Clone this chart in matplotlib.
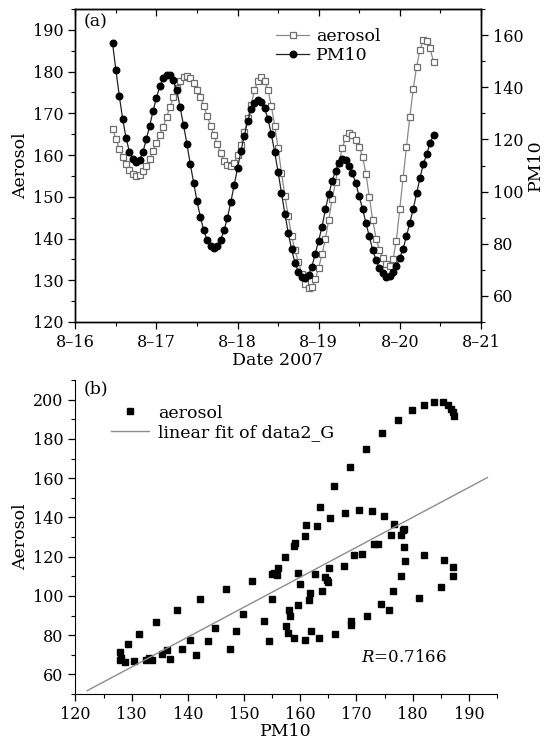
import numpy as np
import matplotlib
matplotlib.use("Agg")
import matplotlib.pyplot as plt
from matplotlib.ticker import MultipleLocator

plt.rcParams['font.family'] = ['DejaVu Serif']
plt.rcParams['mathtext.fontset'] = 'dejavuserif'
plt.rcParams['font.size'] = 11.5

# ---------------- data: panel (a) hourly series, starting 2007-08-16 11:00 ----------------
start_hour = 11  # hours after 2007-08-16 00:00
pm10 = [156.8, 146.5, 136.6, 127.8, 120.5, 115.2, 112.4, 111.5, 112.0, 115.2,
        120.1, 125.3, 131.0, 136.0, 140.5, 143.6, 144.8, 144.6, 142.6, 138.8,
        132.3, 125.5, 118.4, 110.6, 103.4, 96.3, 90.2, 85.1, 81.3, 79.0,
        78.5, 79.2, 81.5, 85.1, 90.0, 96.0, 102.5, 109.0, 115.5, 121.5,
        127.0, 131.5, 134.0, 135.0, 134.5, 132.0, 127.8, 122.0, 115.0, 107.5,
        99.5, 91.5, 84.2, 77.8, 72.6, 69.3, 67.2, 66.7, 68.0, 71.2,
        76.2, 81.2, 86.5, 93.2, 98.9, 104.0, 108.0, 111.0, 112.4, 112.0,
        110.0, 107.0, 103.2, 98.2, 93.4, 88.0, 82.8, 77.6, 73.8, 70.6,
        68.6, 67.2, 67.5, 69.3, 71.5, 74.5, 78.0, 83.0, 88.0, 93.4,
        99.3, 105.3, 110.5, 114.3, 118.8, 121.7]
aerosol = [166.3, 163.9, 161.5, 159.6, 157.8, 156.4, 155.4, 155.0, 155.3, 156.2,
           157.4, 159.1, 160.9, 162.9, 164.9, 166.8, 169.2, 171.4, 173.8, 176.0,
           177.8, 178.8, 179.0, 178.4, 177.2, 175.6, 173.8, 171.8, 169.4, 167.0,
           164.8, 162.6, 160.4, 158.6, 157.5, 157.3, 158.2, 160.0, 162.5, 165.5,
           168.8, 172.0, 175.5, 177.8, 178.6, 177.8, 175.6, 171.8, 167.0, 161.6,
           155.8, 150.3, 145.3, 140.6, 137.2, 134.4, 131.6, 129.2, 128.1, 128.3,
           130.2, 133.0, 136.2, 140.0, 144.5, 149.5, 153.5, 158.0, 161.8, 164.0,
           165.2, 164.8, 163.6, 162.0, 159.6, 155.5, 150.0, 144.5, 140.0, 137.3,
           135.3, 133.8, 133.3, 135.0, 139.5, 147.0, 154.5, 162.0, 169.2, 175.8,
           181.2, 185.2, 187.6, 187.4, 185.6, 182.3]
date_ticks = [16, 17, 18, 19, 20, 21]
date_labels = ['8\u201316', '8\u201317', '8\u201318', '8\u201319', '8\u201320', '8\u201321']

# ---------------- data: panel (b) scatter ----------------
sc_pm10 = [157.2, 158.9, 159.1, 160.9, 161.0, 163.0, 163.5, 165.3, 166.0, 168.0,
           168.9, 170.4, 171.7, 172.7, 173.2, 173.8, 174.6, 174.9, 176.1, 176.7,
           177.9, 178.3, 178.4, 178.5, 177.3, 179.8, 182.1, 183.8, 185.4, 186.3,
           186.9, 187.2, 187.4, 169.5, 171.0, 178.6, 182.1, 185.5,
           128.0, 128.1, 128.0, 128.8, 129.4, 130.4, 131.4, 132.5, 133.1, 133.7,
           134.3, 135.4, 136.3, 136.8, 138.0, 139.0, 140.3, 141.5, 142.2, 143.6,
           144.9, 146.8, 147.5, 148.6, 149.9, 151.4, 153.6, 154.5, 155.0, 155.0,
           155.4, 155.9, 156.0, 157.4, 157.8, 158.0, 158.1, 158.8, 159.6, 159.9,
           159.6, 160.9, 161.6, 161.8, 161.9, 162.7, 163.3, 163.9, 164.4, 164.7,
           165.0, 165.1, 166.2, 167.8, 169.0, 169.0, 171.9, 174.4, 175.7, 176.5,
           177.9, 181.1, 185.0, 187.1, 187.2]
sc_aerosol = [119.7, 125.6, 126.8, 130.4, 135.9, 135.6, 145.3, 139.7, 155.9, 142.4,
              165.8, 143.6, 174.9, 143.2, 126.2, 126.2, 183.2, 140.7, 130.8, 136.4,
              130.8, 133.7, 134.2, 124.8, 189.7, 194.5, 197.3, 198.8, 198.6, 197.4,
              195.2, 193.5, 191.8, 120.9, 121.4, 117.6, 120.9, 118.3,
              71.4, 68.5, 67.5, 66.2, 75.3, 66.6, 80.8, 67.1, 68.5, 67.1,
              86.7, 70.2, 72.2, 67.6, 92.7, 73.1, 77.3, 70.0, 98.3, 77.0,
              83.7, 103.4, 73.1, 81.9, 91.0, 107.5, 87.1, 77.0, 98.3, 111.1,
              111.5, 110.6, 114.4, 84.5, 81.3, 92.7, 89.8, 78.7, 111.5, 106.3,
              95.3, 77.7, 97.8, 101.6, 82.0, 111.1, 78.7, 102.6, 109.8, 108.1,
              106.9, 114.0, 80.8, 115.2, 85.0, 87.1, 89.6, 95.8, 93.0, 102.6,
              110.1, 98.7, 104.3, 110.1, 114.5]
fit_x = [122.1, 193.3]
fit_y = [51.7, 160.3]
r_text = '$R$=0.7166'

LABEL_FS = 12.5
LEG_FS = 12.5

# ---------------- figure ----------------
W, H = 547, 745
fig = plt.figure(figsize=(W / 100, H / 100), dpi=100)

def frac(l, t, r, b):
    return [l / W, 1 - b / H, (r - l) / W, (b - t) / H]

# panel (a)
ax = fig.add_axes(frac(75.4, 9, 480.8, 322))
ax2 = ax.twinx()
t_days = 16 + (start_hour + np.arange(len(pm10))) / 24.0

l1, = ax.plot(t_days, aerosol, color='#8a8a8a', lw=0.9, marker='s', ms=3.9,
              mfc='white', mec='#6e6e6e', mew=0.9, label='aerosol')
l2, = ax2.plot(t_days, pm10, color='#222222', lw=0.9, marker='o', ms=4.7,
               mfc='black', mec='black', label='PM10')

ax.set_xlim(16, 21)
ax.set_ylim(120, 195)
ax2.set_ylim(50, 170)
ax.set_xticks(date_ticks)
ax.set_xticklabels(date_labels)
ax.xaxis.set_minor_locator(MultipleLocator(0.5))
ax.set_yticks(np.arange(120, 191, 10))
ax.yaxis.set_minor_locator(MultipleLocator(5))
ax2.set_yticks(np.arange(60, 161, 20))
ax2.yaxis.set_minor_locator(MultipleLocator(10))

ax.tick_params(which='both', direction='out')
ax.tick_params(which='major', length=5, width=0.9)
ax.tick_params(which='minor', length=3, width=0.8)
ax2.tick_params(which='major', length=5, width=0.9, direction='out')
ax2.tick_params(which='minor', length=3, width=0.8, direction='out')

# top axis: ticks pointing inward, no labels
top = ax.secondary_xaxis('top')
top.set_xticks(date_ticks)
top.xaxis.set_minor_locator(MultipleLocator(0.5))
top.tick_params(which='both', direction='in', labeltop=False)
top.tick_params(which='major', length=5, width=0.9)
top.tick_params(which='minor', length=3, width=0.8)

for a in (ax, ax2):
    for s in a.spines.values():
        s.set_linewidth(1.0)

ax.set_xlabel('Date 2007', labelpad=1, fontsize=LABEL_FS)
ax.set_ylabel('Aerosol', labelpad=3, fontsize=LABEL_FS)
ax2.set_ylabel('PM10', rotation=90, labelpad=3, fontsize=LABEL_FS)
ax.text(0.02, 0.985, '(a)', transform=ax.transAxes, ha='left', va='top',
        fontsize=LABEL_FS)

ax2.legend([l1, l2], ['aerosol', 'PM10'], loc='upper left',
           bbox_to_anchor=(0.47, 0.972), frameon=False, handlelength=1.9,
           handletextpad=0.4, labelspacing=0.12, borderaxespad=0.2,
           fontsize=LEG_FS)

# panel (b)
bx = fig.add_axes(frac(75.4, 380, 497, 694))
s1, = bx.plot(sc_pm10, sc_aerosol, ls='none', marker='s', ms=4.1,
              color='black', label='aerosol')
f1, = bx.plot(fit_x, fit_y, color='#8c8c8c', lw=1.0,
              label='linear fit of data2_G')
bx.set_xlim(120, 195)
bx.set_ylim(50, 210)
bx.set_xticks(np.arange(120, 191, 10))
bx.set_yticks(np.arange(60, 201, 20))
bx.xaxis.set_minor_locator(MultipleLocator(5))
bx.yaxis.set_minor_locator(MultipleLocator(10))
bx.spines['top'].set_visible(False)
bx.spines['right'].set_visible(False)
bx.tick_params(which='major', length=5, width=0.9, direction='out')
bx.tick_params(which='minor', length=3, width=0.8, direction='out')
bx.set_xlabel('PM10', labelpad=0, fontsize=LABEL_FS)
bx.set_ylabel('Aerosol', labelpad=3, fontsize=LABEL_FS)
bx.text(0.02, 1.0, '(b)', transform=bx.transAxes, ha='left', va='top',
        fontsize=LABEL_FS)
bx.text(170.8, 68.5, r_text, ha='left', va='center', fontsize=12)
bx.legend([s1, f1], ['aerosol', 'linear fit of data2_G'], loc='upper left',
          bbox_to_anchor=(0.06, 0.955), frameon=False, handlelength=2.2,
          handletextpad=0.5, labelspacing=0.15, borderaxespad=0.2,
          fontsize=LEG_FS)

fig.savefig('out.png', dpi=100)
